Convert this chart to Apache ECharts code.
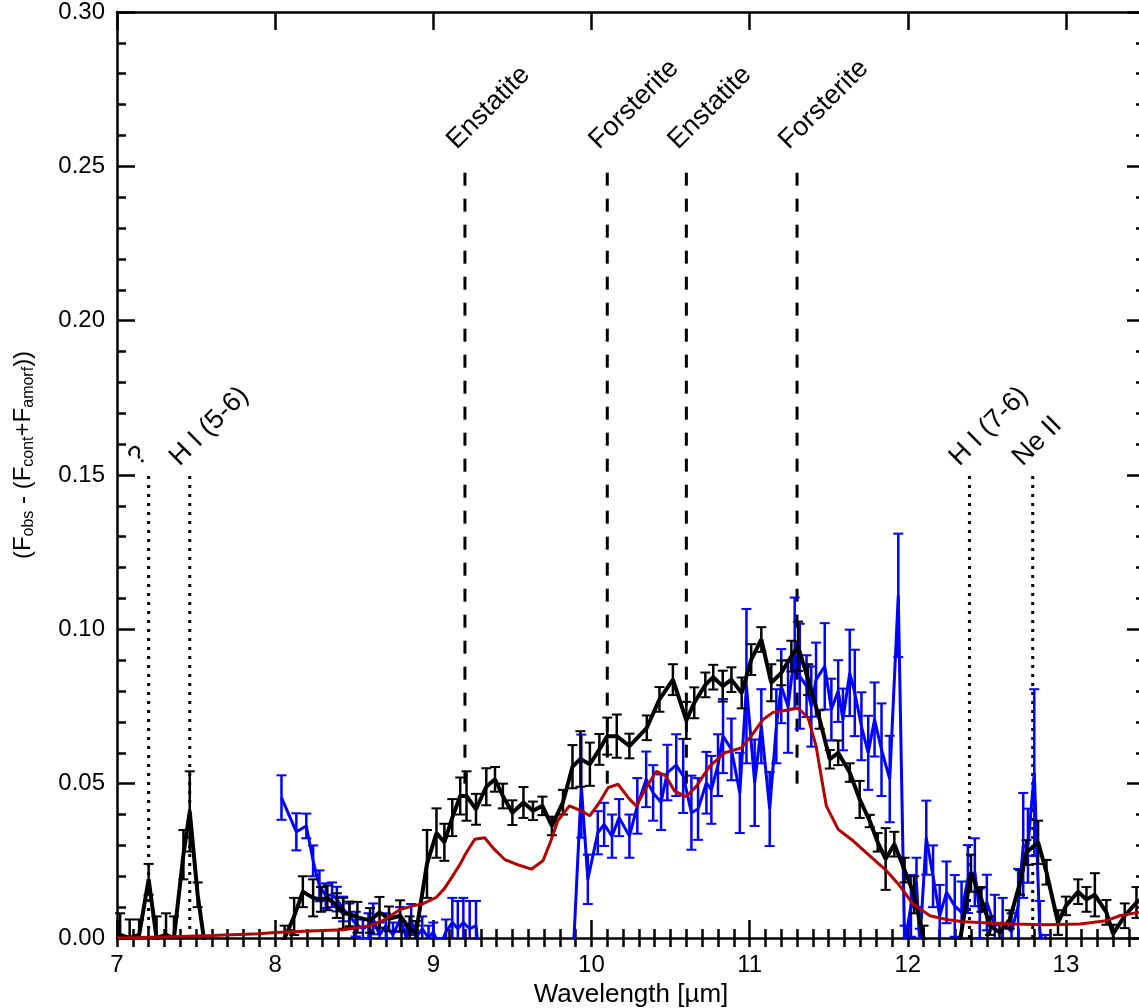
<!DOCTYPE html>
<html>
<head>
<meta charset="utf-8">
<script src="https://cdn.jsdelivr.net/npm/echarts@6/dist/echarts.min.js"></script>
<style>
  html, body { margin: 0; padding: 0; background: #ffffff; }
  #chart { width: 1139px; height: 1008px; }
</style>
</head>
<body>
<div id="chart"></div>
<script>
// Residual spectrum after removing continuum + amorphous silicate model.

// Low-resolution spectrum (black), with 1-sigma uncertainties
const blackWave = [
  7.02, 7.08, 7.14, 7.20, 7.25, 7.31, 7.36, 7.42, 7.46, 7.51,
  7.56, 7.62, 7.67, 7.73, 7.78, 7.84, 7.89, 7.95, 8.00, 8.06,
  8.12, 8.175, 8.24, 8.29, 8.33, 8.39, 8.43, 8.47, 8.52, 8.60,
  8.66, 8.72, 8.79, 8.85, 8.89, 8.96, 9.02, 9.07, 9.12, 9.17,
  9.21, 9.27, 9.335, 9.39, 9.44, 9.50, 9.57, 9.63, 9.69, 9.75,
  9.82, 9.88, 9.93, 9.99, 10.05, 10.10, 10.16, 10.24, 10.35, 10.43,
  10.515, 10.60, 10.65, 10.72, 10.77, 10.83, 10.885, 10.95, 11.01, 11.074,
  11.137, 11.20, 11.264, 11.306, 11.37, 11.443, 11.507, 11.56, 11.633, 11.696,
  11.76, 11.81, 11.86, 11.915, 11.98, 12.04, 12.10, 12.17, 12.24, 12.32,
  12.40, 12.466, 12.52, 12.58, 12.645, 12.71, 12.75, 12.824, 12.877, 12.95,
  13.00, 13.077, 13.13, 13.183, 13.256, 13.298, 13.372, 13.446, 13.52
];
const blackFlux = [
  0.001, 0.000, 0.001, 0.019, 0.000, 0.001, 0.000, 0.027, 0.041, 0.014,
  -0.004, -0.006, -0.008, -0.007, -0.009, -0.008, -0.007, -0.006, -0.004, 0.000,
  0.007, 0.015, 0.013, 0.0125, 0.013, 0.0105, 0.008, 0.0078, 0.0067, 0.0057,
  0.0083, 0.0062, 0.0072, 0.003, 0.0015, 0.024, 0.034, 0.031, 0.039, 0.046,
  0.046, 0.0417, 0.049, 0.0514, 0.046, 0.0406, 0.0439, 0.0412, 0.0428, 0.0363,
  0.044, 0.0555, 0.058, 0.0563, 0.0611, 0.0654, 0.0654, 0.0622, 0.0681, 0.0773,
  0.0837, 0.0705, 0.0762, 0.082, 0.0845, 0.0816, 0.0837, 0.0794, 0.0902, 0.0967,
  0.0827, 0.0859, 0.0913, 0.0945, 0.0837, 0.0708, 0.0579, 0.060, 0.0536, 0.0449,
  0.0379, 0.031, 0.0256, 0.0304, 0.022, 0.014, 0.000, -0.006, -0.008, -0.004,
  0.021, 0.0125, 0.004, 0.0018, 0.006, 0.018, 0.0277, 0.031, 0.0213, 0.005,
  0.0104, 0.015, 0.0125, 0.014, 0.0083, 0.0013, 0.0072, 0.0115, 0.014
];
const blackErr = [
  0.007, 0.006, 0.005, 0.005, 0.007, 0.007, 0.007, 0.008, 0.013, 0.004,
  0.003, 0.004, 0.004, 0.004, 0.004, 0.004, 0.004, 0.004, 0.003, 0.004,
  0.006, 0.005, 0.006, 0.004, 0.004, 0.004, 0.005, 0.004, 0.005, 0.004,
  0.005, 0.004, 0.005, 0.004, 0.004, 0.011, 0.008, 0.006, 0.006, 0.006,
  0.008, 0.005, 0.006, 0.004, 0.004, 0.004, 0.005, 0.003, 0.003, 0.003,
  0.004, 0.007, 0.009, 0.007, 0.005, 0.006, 0.007, 0.004, 0.004, 0.004,
  0.005, 0.006, 0.005, 0.004, 0.004, 0.005, 0.004, 0.005, 0.005, 0.004,
  0.006, 0.004, 0.005, 0.008, 0.005, 0.003, 0.003, 0.004, 0.003, 0.006,
  0.002, 0.003, 0.010, 0.004, 0.004, 0.006, 0.004, 0.004, 0.004, 0.003,
  0.006, 0.004, 0.003, 0.003, 0.003, 0.004, 0.004, 0.007, 0.004, 0.004,
  0.003, 0.004, 0.004, 0.007, 0.004, 0.003, 0.004, 0.005, 0.004
];

// Higher-resolution spectrum (blue), with 1-sigma uncertainties
const blueWave = [
  8.04, 8.134, 8.197, 8.24, 8.28, 8.32, 8.36, 8.39, 8.43, 8.47,
  8.51, 8.555, 8.59, 8.62, 8.66, 8.70, 8.745, 8.79, 8.83, 8.86,
  8.89, 8.93, 8.97, 9.00, 9.04, 9.08, 9.12, 9.155, 9.19, 9.23,
  9.27, 9.30, 9.40, 9.50, 9.60, 9.70, 9.80, 9.88, 9.936, 9.977,
  10.04, 10.08, 10.13, 10.175, 10.24, 10.29, 10.346, 10.39, 10.44, 10.48,
  10.536, 10.58, 10.632, 10.674, 10.727, 10.758, 10.80, 10.832, 10.885, 10.938,
  10.98, 11.032, 11.074, 11.127, 11.169, 11.20, 11.243, 11.285, 11.317, 11.36,
  11.39, 11.42, 11.475, 11.517, 11.56, 11.59, 11.633, 11.665, 11.707, 11.75,
  11.79, 11.834, 11.886, 11.94, 11.98, 12.02, 12.055, 12.076, 12.117, 12.16,
  12.202, 12.245, 12.297, 12.34, 12.38, 12.424, 12.455, 12.50, 12.55, 12.60,
  12.656, 12.698, 12.73, 12.76, 12.80, 12.835, 12.87
];
const blueFlux = [
  0.0455, 0.0344, 0.0363, 0.025, 0.0169, 0.0137, 0.014, 0.0126, 0.0094, 0.0072,
  0.0045, 0.003, 0.004, 0.0062, 0.001, 0.004, 0.001, 0.006, 0.000, 0.006,
  0.000, 0.003, 0.000, 0.002, -0.003, 0.002, 0.005, 0.003, 0.005, 0.003,
  0.004, -0.012, -0.020, -0.020, -0.020, -0.020, -0.015, -0.010, 0.0492, 0.019,
  0.0341, 0.0368, 0.033, 0.039, 0.033, 0.0428, 0.0514, 0.047, 0.044, 0.0536,
  0.056, 0.0525, 0.0406, 0.0418, 0.0503, 0.048, 0.056, 0.0654, 0.0611, 0.047,
  0.0816, 0.0503, 0.0686, 0.0418, 0.0686, 0.0816, 0.075, 0.0923, 0.0848, 0.0816,
  0.075, 0.0837, 0.088, 0.074, 0.080, 0.0708, 0.0859, 0.0794, 0.0686, 0.060,
  0.0708, 0.061, 0.0515, 0.111, -0.002, 0.0104, 0.018, -0.002, 0.0325, 0.020,
  0.0072, 0.0148, 0.0104, 0.0083, 0.0191, 0.0213, 0.008, 0.0115, 0.004, 0.005,
  0.002, 0.0104, 0.030, 0.0299, 0.0536, 0.002, -0.004
];
const blueErr = [
  0.0072, 0.006, 0.004, 0.005, 0.005, 0.004, 0.004, 0.004, 0.004, 0.004,
  0.004, 0.003, 0.004, 0.005, 0.004, 0.004, 0.004, 0.004, 0.004, 0.005,
  0.004, 0.004, 0.004, 0.003, 0.003, 0.004, 0.008, 0.009, 0.008, 0.009,
  0.008, 0.004, 0.005, 0.005, 0.005, 0.005, 0.005, 0.004, 0.0167, 0.008,
  0.007, 0.007, 0.007, 0.006, 0.007, 0.009, 0.009, 0.009, 0.009, 0.009,
  0.010, 0.012, 0.012, 0.010, 0.010, 0.011, 0.010, 0.012, 0.010, 0.013,
  0.025, 0.014, 0.012, 0.012, 0.012, 0.012, 0.015, 0.018, 0.017, 0.010,
  0.013, 0.012, 0.014, 0.010, 0.010, 0.010, 0.014, 0.014, 0.011, 0.012,
  0.012, 0.015, 0.014, 0.020, 0.006, 0.010, 0.008, 0.005, 0.012, 0.010,
  0.010, 0.010, 0.010, 0.010, 0.011, 0.011, 0.008, 0.009, 0.010, 0.008,
  0.006, 0.012, 0.017, 0.012, 0.027, 0.010, 0.005
];

// Crystalline silicate model (dark red)
const modelWave = [
  7.0, 7.3, 7.6, 7.9, 8.0, 8.22, 8.43, 8.6, 8.68, 8.74,
  8.79, 8.87, 8.93, 9.02, 9.07, 9.124, 9.17, 9.209, 9.262, 9.325,
  9.377, 9.45, 9.524, 9.62, 9.693, 9.74, 9.787, 9.861, 9.936, 9.989,
  10.05, 10.105, 10.168, 10.24, 10.283, 10.346, 10.41, 10.47, 10.525, 10.6,
  10.664, 10.748, 10.843, 10.948, 11.01, 11.085, 11.148, 11.232, 11.306, 11.37,
  11.42, 11.485, 11.56, 11.654, 11.76, 11.865, 11.95, 12.033, 12.14, 12.244,
  12.35, 12.455, 12.666, 12.877, 13.088, 13.256, 13.34, 13.46, 13.55
];
const modelFlux = [
  0.0, 0.0003, 0.0008, 0.0014, 0.0018, 0.0023, 0.0027, 0.004, 0.0056, 0.0075,
  0.0092, 0.0104, 0.011, 0.0132, 0.016, 0.0202, 0.024, 0.0277, 0.032, 0.0325,
  0.0292, 0.0255, 0.0239, 0.0223, 0.025, 0.031, 0.038, 0.0428, 0.0412, 0.0396,
  0.0439, 0.0487, 0.0498, 0.045, 0.0428, 0.0487, 0.054, 0.0525, 0.0476, 0.0458,
  0.0492, 0.0557, 0.060, 0.0616, 0.0654, 0.0708, 0.0731, 0.0738, 0.0745, 0.0713,
  0.0622, 0.0428, 0.0352, 0.0315, 0.0266, 0.0218, 0.0169, 0.011, 0.0072, 0.006,
  0.0053, 0.005, 0.0045, 0.0043, 0.0045, 0.0056, 0.0072, 0.0083, 0.0092
];

// Solid-state band positions (dashed) and gas lines (dotted)
const bandWave = [9.2, 10.1, 10.6, 11.3];
const bandNames = ['Enstatite', 'Forsterite', 'Enstatite', 'Forsterite'];
const bandSpan = [0.05, 0.25];
const gasWave = [7.2, 7.46, 12.39, 12.79];
const gasNames = ['?', 'H I (5-6)', 'H I (7-6)', 'Ne II'];
const gasSpan = [0.0, 0.15];

// Axis ranges and tick spacing
const xRange = [7, 13.5];
const yRange = [0, 0.30];
const xMajorStep = 1;
const xMinorStep = 0.1;
const yMajorStep = 0.05;

const FONT = '"Liberation Sans", Arial, Helvetica, sans-serif';

const zip2 = (a, b) => a.map((v, i) => [v, b[i]]);
const zip3 = (a, b, c) => a.map((v, i) => [v, b[i], c[i]]);

function errorBars(color, capHalf, barWidth, capWidth) {
  return function (params, api) {
    const x = api.value(0), v = api.value(1), e = api.value(2);
    const hi = api.coord([x, v + e]);
    const lo = api.coord([x, v - e]);
    const cs = params.coordSys;
    const top = cs.y, bottom = cs.y + cs.height;
    if (hi[1] > bottom || lo[1] < top) return null;
    const y1 = Math.max(hi[1], top), y2 = Math.min(lo[1], bottom);
    const kids = [{
      type: 'line',
      shape: { x1: hi[0], y1: y1, x2: hi[0], y2: y2 },
      style: { stroke: color, lineWidth: barWidth }
    }];
    if (hi[1] >= top) kids.push({
      type: 'line',
      shape: { x1: hi[0] - capHalf, y1: hi[1], x2: hi[0] + capHalf, y2: hi[1] },
      style: { stroke: color, lineWidth: capWidth }
    });
    if (lo[1] <= bottom) kids.push({
      type: 'line',
      shape: { x1: lo[0] - capHalf, y1: lo[1], x2: lo[0] + capHalf, y2: lo[1] },
      style: { stroke: color, lineWidth: capWidth }
    });
    return { type: 'group', children: kids };
  };
}

function markerLines(names, span, dash, labelDx, labelDy) {
  return function (params, api) {
    const x = api.value(0);
    const p0 = api.coord([x, span[0]]);
    const p1 = api.coord([x, span[1]]);
    return {
      type: 'group',
      children: [
        {
          type: 'line',
          shape: { x1: p0[0], y1: p0[1], x2: p1[0], y2: p1[1] },
          style: { stroke: '#000', lineWidth: 3, lineDash: dash, lineCap: 'butt' }
        },
        {
          type: 'text',
          x: p1[0] + labelDx,
          y: p1[1] + labelDy,
          rotation: Math.PI / 4,
          style: {
            text: names[params.dataIndex],
            x: 0, y: 0,
            fill: '#000',
            font: '27px ' + FONT,
            textAlign: 'left',
            textVerticalAlign: 'bottom'
          }
        }
      ]
    };
  };
}

const tickStyle = { color: '#000', width: 2.5 };
const frameLine = { show: true, onZero: false, lineStyle: { color: '#000', width: 2.5 } };

function xAxisPair(pos, withLabels) {
  return [
    {
      type: 'value', position: pos, min: xRange[0], max: xRange[1], interval: xMajorStep,
      axisLine: frameLine,
      axisTick: { show: true, inside: true, length: 18, lineStyle: tickStyle },
      axisLabel: withLabels ? {
        show: true, margin: 15, fontSize: 24, fontFamily: FONT, color: '#000',
        showMaxLabel: false, formatter: v => String(Math.round(v))
      } : { show: false },
      splitLine: { show: false },
      name: withLabels ? 'Wavelength [µm]' : '',
      nameLocation: 'middle', nameGap: 42,
      nameTextStyle: { fontSize: 26, fontFamily: FONT, color: '#000' }
    },
    {
      type: 'value', position: pos, min: xRange[0], max: xRange[1], interval: xMinorStep,
      axisLine: { show: false },
      axisTick: { show: true, inside: true, length: 9, lineStyle: tickStyle },
      axisLabel: { show: false },
      splitLine: { show: false }
    }
  ];
}

function yAxisSide(pos, withLabels) {
  return {
    type: 'value', position: pos, min: yRange[0], max: yRange[1], interval: yMajorStep,
    axisLine: frameLine,
    axisTick: { show: true, inside: true, length: 18, lineStyle: tickStyle },
    minorTick: { show: true, splitNumber: 5, length: 9, lineStyle: tickStyle },
    axisLabel: withLabels ? {
      show: true, margin: 12, fontSize: 24, fontFamily: FONT, color: '#000',
      formatter: v => v.toFixed(2)
    } : { show: false },
    splitLine: { show: false },
    name: withLabels ? '(F{s|obs} - (F{s|cont}+F{s|amorf}))' : '',
    nameLocation: 'middle', nameRotate: 90, nameGap: 80,
    nameTextStyle: {
      fontSize: 24, fontFamily: FONT, color: '#000', lineHeight: 28,
      padding: [0, 0, 0, 40],
      rich: { s: { fontSize: 16, lineHeight: 14, verticalAlign: 'bottom', fontFamily: FONT, color: '#000' } }
    }
  };
}

const chart = echarts.init(document.getElementById('chart'), null, { renderer: 'canvas' });

chart.setOption({
  backgroundColor: '#ffffff',
  animation: false,
  grid: { left: 117, top: 12, right: -6, bottom: 70, containLabel: false, outerBoundsMode: 'none' },
  xAxis: [...xAxisPair('bottom', true), ...xAxisPair('top', false)],
  yAxis: [yAxisSide('left', true), yAxisSide('right', false)],
  series: [
    {
      type: 'custom', name: 'bands', z: 1, clip: false,
      renderItem: markerLines(bandNames, bandSpan, [13, 13], -4, -12),
      data: bandWave.map(w => [w, bandSpan[1]]),
      encode: { x: 0, y: 1 }
    },
    {
      type: 'custom', name: 'gas lines', z: 1, clip: false,
      renderItem: markerLines(gasNames, gasSpan, [3, 6], -6, -4),
      data: gasWave.map(w => [w, gasSpan[1]]),
      encode: { x: 0, y: 1 }
    },
    {
      type: 'custom', name: 'blue errors', z: 2,
      renderItem: errorBars('#0000ff', 5, 2.5, 2),
      data: zip3(blueWave, blueFlux, blueErr),
      encode: { x: 0, y: 1 }
    },
    {
      type: 'line', name: 'blue', z: 2, showSymbol: false, symbol: 'none',
      data: zip2(blueWave, blueFlux),
      lineStyle: { color: '#0000ff', width: 3 }, clip: true
    },
    {
      type: 'custom', name: 'black errors', z: 3,
      renderItem: errorBars('#000000', 5, 2.5, 2),
      data: zip3(blackWave, blackFlux, blackErr),
      encode: { x: 0, y: 1 }
    },
    {
      type: 'line', name: 'black', z: 3, showSymbol: false, symbol: 'none',
      data: zip2(blackWave, blackFlux),
      lineStyle: { color: '#000000', width: 4 }, clip: true
    },
    {
      type: 'line', name: 'model', z: 4, showSymbol: false, symbol: 'none',
      data: zip2(modelWave, modelFlux),
      lineStyle: { color: '#b00000', width: 3 }, clip: true
    }
  ]
});
</script>
</body>
</html>
